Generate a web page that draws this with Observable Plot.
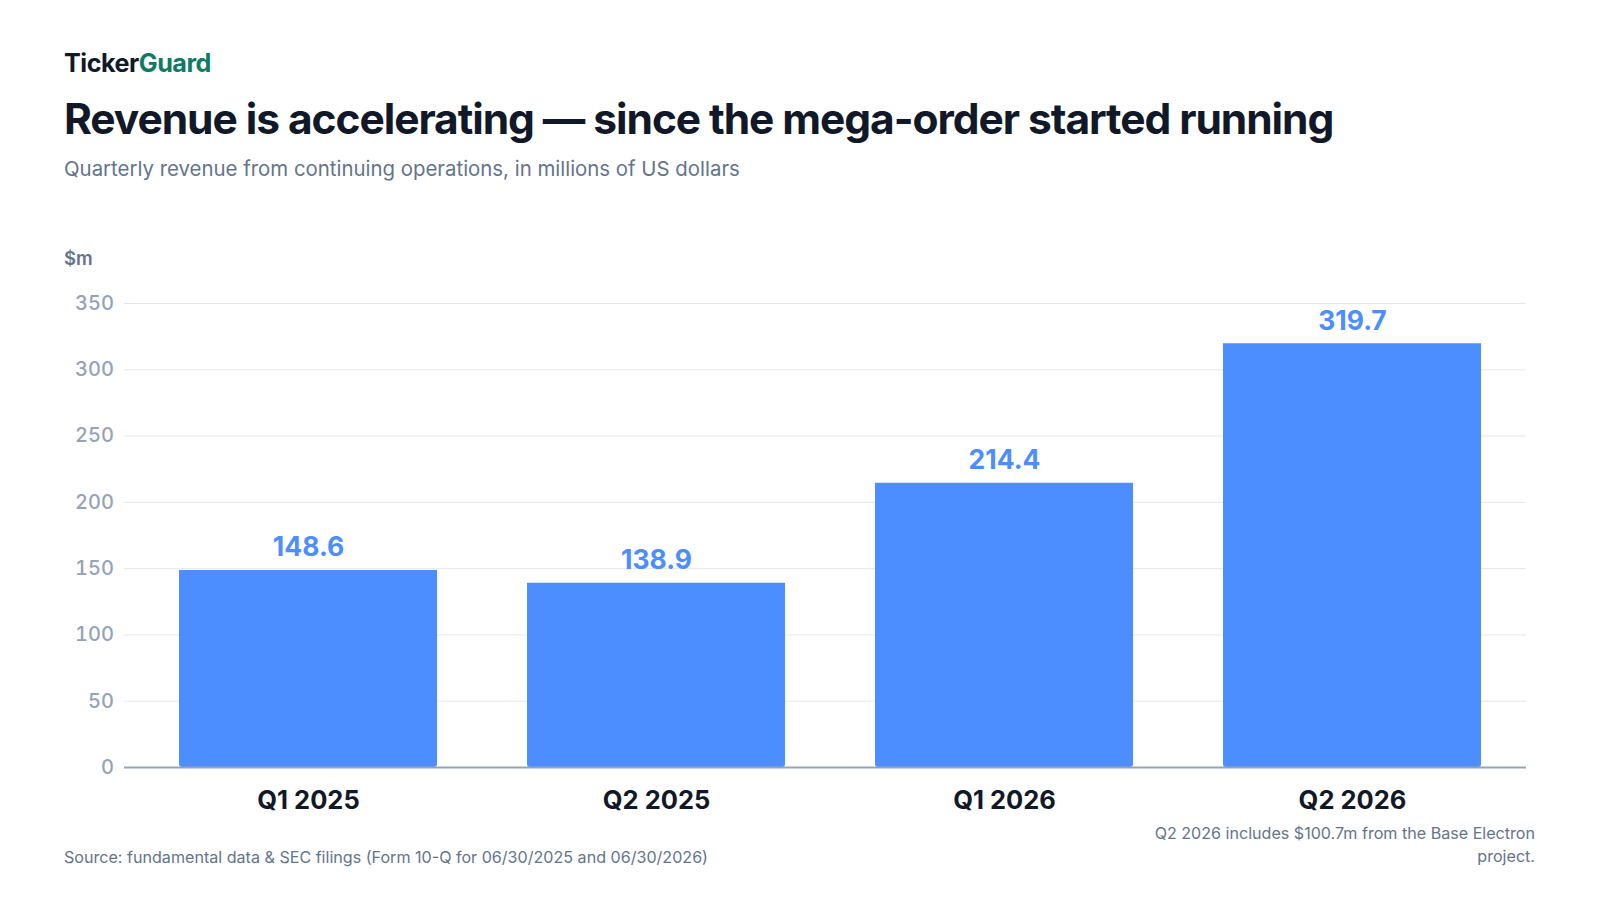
<!DOCTYPE html>
<html>
<head>
<meta charset="utf-8">
<script src="https://cdn.jsdelivr.net/npm/d3@7"></script>
<script src="https://cdn.jsdelivr.net/npm/@observablehq/plot@0.6"></script>
<style>
  html, body { margin: 0; padding: 0; background: #ffffff; }
  body { width: 1600px; height: 900px; position: relative; overflow: hidden; font-family: Inter, "Noto Sans", sans-serif; }
  .abs { position: absolute; white-space: nowrap; }
  #brand { left: 64px; top: 48px; font-size: 25.2px; line-height: 30px; font-weight: 700; color: #111827; letter-spacing: -0.02em; }
  #brand span { color: #0f7a66; }
  #title { left: 64px; top: 93.5px; font-size: 42.5px; line-height: 50px; font-weight: 700; color: #111827; letter-spacing: -0.025em; }
  #subtitle { left: 64px; top: 156px; font-size: 20.4px; line-height: 26px; font-weight: 400; color: #64748b; }
  #unit { left: 64px; top: 247px; font-size: 18.5px; line-height: 22px; font-weight: 600; color: #64748b; }
  #chart { position: absolute; left: 64px; top: 285px; }
  #source { left: 64px; top: 846px; font-size: 16.1px; line-height: 22px; color: #64748b; }
  #note { position: absolute; right: 65px; top: 822px; width: 392px; text-align: right; font-size: 16.1px; line-height: 23.3px; color: #64748b; }
</style>
</head>
<body>
<div id="brand" class="abs">Ticker<span>Guard</span></div>
<div id="title" class="abs">Revenue is accelerating — since the mega-order started running</div>
<div id="subtitle" class="abs">Quarterly revenue from continuing operations, in millions of US dollars</div>
<div id="unit" class="abs">$m</div>
<div id="chart"></div>
<div id="source" class="abs">Source: fundamental data &amp; SEC filings (Form 10-Q for 06/30/2025 and 06/30/2026)</div>
<div id="note">Q2 2026 includes $100.7m from the Base Electron project.</div>
<script>
const quarters = ["Q1 2025", "Q2 2025", "Q1 2026", "Q2 2026"];
const revenue = [148.6, 138.9, 214.4, 319.7];
const yTicks = [0, 50, 100, 150, 200, 250, 300, 350];

const data = quarters.map((q, i) => ({q, v: revenue[i]}));
const barColor = "#4c8dff";

const chart = Plot.plot({
  width: 1471,
  height: 532,
  marginTop: 18,
  marginBottom: 50,
  marginLeft: 60,
  marginRight: 9,
  x: {domain: quarters, paddingInner: 0.26, paddingOuter: 0.144, align: 0.55, label: null},
  y: {domain: [0, 350], label: null},
  style: {fontFamily: "Inter, 'Noto Sans', sans-serif", background: "transparent", overflow: "visible"},
  marks: [
    Plot.gridY(yTicks, {stroke: "#e5e7eb", strokeOpacity: 1, strokeWidth: 1}),
    Plot.barY(data, {x: "q", y: "v", fill: barColor, ry2: 3}),
    Plot.ruleY([0], {stroke: "#94a3b8", strokeWidth: 2}),
    Plot.text(data, {x: "q", y: "v", text: d => d.v.toFixed(1), dy: -22.5, fill: barColor, fontSize: 26.5, fontWeight: 700, lineAnchor: "middle"}),
    Plot.axisX({tickSize: 0, tickPadding: 23, fontSize: 25.5, fontWeight: 700, fill: "#111827", label: null}),
    Plot.axisY(yTicks, {tickSize: 0, tickPadding: 10.5, fontSize: 20, fontWeight: 500, fill: "#94a3b8", label: null})
  ]
});
document.getElementById("chart").appendChild(chart);
</script>
</body>
</html>
